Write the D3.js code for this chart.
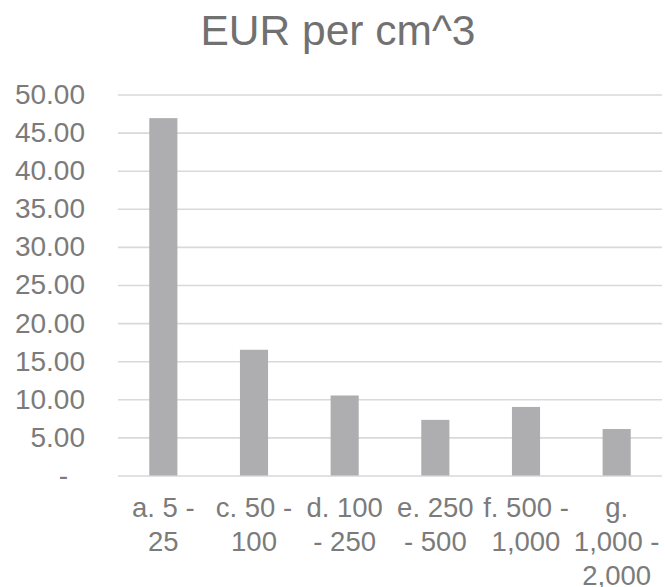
<!DOCTYPE html>
<html>
<head>
<meta charset="utf-8">
<script src="https://cdn.jsdelivr.net/npm/d3@7/dist/d3.min.js"></script>
<style>
  html, body { margin: 0; padding: 0; background: #fff; }
  svg { display: block; font-family: "Liberation Sans", Arial, sans-serif; }
</style>
</head>
<body>
<svg id="chart" width="665" height="587"></svg>
<script>
// Price per cubic centimetre by size class
const categories = ["a. 5 - 25", "c. 50 - 100", "d. 100 - 250", "e. 250 - 500", "f. 500 - 1,000", "g. 1,000 - 2,000"];
const categoryLines = [
  ["a. 5 -", "25"],
  ["c. 50 -", "100"],
  ["d. 100", "- 250"],
  ["e. 250", "- 500"],
  ["f. 500 -", "1,000"],
  ["g.", "1,000 -", "2,000"]
];
const values = [46.9, 16.5, 10.5, 7.3, 9.0, 6.1];
const yTicks = [0, 5, 10, 15, 20, 25, 30, 35, 40, 45, 50];
const titleText = "EUR per cm^3";

const svg = d3.select("#chart");
const textColor = "#7b7b7b";
const plot = { left: 118, right: 662, top: 94.5, bottom: 475.5 };

const x = d3.scaleBand()
  .domain(categories)
  .range([plot.left, plot.right])
  .paddingInner(0.69)
  .paddingOuter(0.345);

const y = d3.scaleLinear()
  .domain([0, 50])
  .range([plot.bottom, plot.top]);

// Title
svg.append("text")
  .attr("x", 338)
  .attr("y", 45)
  .attr("text-anchor", "middle")
  .attr("font-size", 42.5)
  .attr("fill", "#717171")
  .text(titleText);

// Horizontal gridlines
const grid = svg.append("g")
  .attr("transform", `translate(${plot.left},0)`)
  .call(d3.axisLeft(y).tickValues(yTicks).tickSize(-(plot.right - plot.left)).tickFormat(""));
grid.select(".domain").remove();
grid.selectAll(".tick line").attr("stroke", "#d9d9d9").attr("stroke-width", 1.6);

// Y axis labels (accounting style: zero shown as a dash)
const fmt = d3.format(",.2f");
const yAxis = svg.append("g")
  .attr("transform", `translate(${plot.left},0)`)
  .call(d3.axisLeft(y).tickValues(yTicks).tickSize(0).tickPadding(33)
    .tickFormat(d => d === 0 ? "-" : fmt(d)));
yAxis.select(".domain").remove();
yAxis.selectAll(".tick text")
  .attr("font-family", "Liberation Sans, Arial, sans-serif")
  .attr("font-size", 28)
  .attr("fill", textColor)
  .attr("dx", d => d === 0 ? -17 : 0);

// Bars
svg.append("g")
  .selectAll("rect")
  .data(values)
  .join("rect")
  .attr("x", (d, i) => x(categories[i]))
  .attr("y", d => y(d))
  .attr("width", x.bandwidth())
  .attr("height", d => y(0) - y(d))
  .attr("fill", "#aeaeb0");

// Category labels, wrapped onto several lines
const xAxis = svg.append("g")
  .attr("transform", `translate(0,${plot.bottom})`)
  .call(d3.axisBottom(x).tickSize(0).tickFormat(""));
xAxis.select(".domain").remove();
xAxis.selectAll(".tick").each(function(d, i) {
  const t = d3.select(this).append("text")
    .attr("text-anchor", "middle")
    .attr("font-family", "Liberation Sans, Arial, sans-serif")
    .attr("font-size", 27.5)
    .attr("fill", textColor);
  categoryLines[i].forEach((line, k) => {
    t.append("tspan")
      .attr("x", 0)
      .attr("y", 41 + k * 34)
      .text(line);
  });
});
</script>
</body>
</html>
